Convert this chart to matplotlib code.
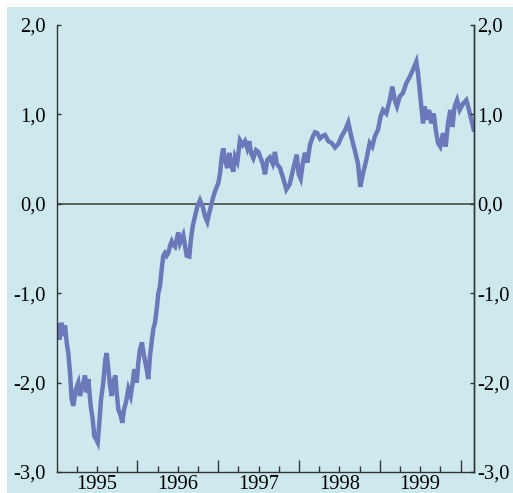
import matplotlib
matplotlib.use("Agg")
import matplotlib.pyplot as plt
from matplotlib.patches import Rectangle
from matplotlib.ticker import FixedLocator, FuncFormatter

dates = [
1995.010,1995.035,1995.064,1995.084,1995.105,1995.126,1995.146,1995.167,1995.188,1995.208,
1995.241,1995.270,1995.291,1995.324,1995.353,1995.374,1995.394,1995.423,1995.448,1995.468,
1995.489,1995.510,1995.530,1995.551,1995.579,1995.604,1995.621,1995.641,1995.662,1995.683,
1995.703,1995.728,1995.745,1995.765,1995.795,1995.814,1995.835,1995.860,1995.889,1995.918,
1995.943,1995.963,1995.993,1996.012,1996.033,1996.058,1996.083,1996.116,1996.136,1996.157,
1996.178,1996.198,1996.219,1996.240,1996.260,1996.281,1996.302,1996.322,1996.343,1996.364,
1996.384,1996.405,1996.426,1996.446,1996.467,1996.507,1996.528,1996.569,1996.611,1996.644,
1996.661,1996.686,1996.714,1996.743,1996.776,1996.809,1996.838,1996.866,1996.891,1996.921,
1996.941,1996.970,1997.002,1997.024,1997.045,1997.064,1997.085,1997.114,1997.139,1997.160,
1997.188,1997.209,1997.238,1997.271,1997.304,1997.333,1997.361,1997.386,1997.407,1997.436,
1997.469,1997.498,1997.519,1997.552,1997.580,1997.609,1997.642,1997.676,1997.704,1997.725,
1997.766,1997.807,1997.844,1997.886,1997.927,1997.973,1997.998,1998.022,1998.047,1998.075,
1998.104,1998.137,1998.171,1998.199,1998.228,1998.261,1998.295,1998.323,1998.364,1998.406,
1998.447,1998.488,1998.530,1998.571,1998.611,1998.649,1998.691,1998.731,1998.760,1998.793,
1998.834,1998.876,1998.908,1998.938,1998.979,1999.012,1999.041,1999.082,1999.124,1999.156,
1999.186,1999.214,1999.248,1999.288,1999.329,1999.371,1999.412,1999.453,1999.474,1999.495,
1999.515,1999.536,1999.557,1999.577,1999.610,1999.639,1999.668,1999.700,1999.722,1999.750,
1999.783,1999.817,1999.845,1999.874,1999.899,1999.928,1999.957,1999.990,2000.031,2000.072,
2000.105,2000.134,2000.163,
]
spread = [
-1.36,-1.52,-1.33,-1.48,-1.36,-1.55,-1.67,-1.89,-2.19,-2.26,
-2.07,-2.00,-2.15,-2.03,-1.92,-2.11,-1.96,-2.26,-2.41,-2.60,
-2.63,-2.67,-2.45,-2.19,-2.00,-1.74,-1.67,-1.85,-2.03,-2.15,
-2.00,-1.92,-2.11,-2.30,-2.37,-2.45,-2.30,-2.22,-2.07,-2.15,
-2.00,-1.85,-2.00,-1.78,-1.63,-1.55,-1.70,-1.85,-1.96,-1.70,
-1.55,-1.40,-1.33,-1.18,-1.00,-0.92,-0.73,-0.58,-0.55,-0.58,
-0.55,-0.47,-0.42,-0.46,-0.48,-0.32,-0.44,-0.35,-0.58,-0.59,
-0.42,-0.25,-0.14,-0.03,0.04,-0.03,-0.14,-0.20,-0.10,0.01,
0.08,0.16,0.23,0.34,0.53,0.62,0.49,0.40,0.57,0.44,
0.36,0.53,0.47,0.71,0.66,0.70,0.62,0.70,0.57,0.51,
0.60,0.58,0.53,0.45,0.33,0.49,0.52,0.45,0.58,0.45,
0.40,0.28,0.16,0.22,0.38,0.55,0.33,0.28,0.45,0.57,
0.46,0.66,0.75,0.80,0.79,0.73,0.76,0.77,0.70,0.68,
0.63,0.67,0.76,0.82,0.91,0.75,0.60,0.45,0.19,0.34,
0.49,0.68,0.64,0.75,0.83,0.98,1.05,1.01,1.16,1.31,
1.16,1.09,1.20,1.24,1.35,1.42,1.50,1.59,1.46,1.27,
1.09,0.90,1.09,0.94,1.05,0.90,1.01,0.79,0.68,0.64,
0.79,0.64,0.90,1.05,0.86,1.09,1.16,1.05,1.12,1.16,
1.05,0.94,0.83,
]
yticks = [2.0, 1.0, 0.0, -1.0, -2.0, -3.0]
ytick_labels = ["2,0", "1,0", "0,0", "-1,0", "-2,0", "-3,0"]
year_labels = ["1995", "1996", "1997", "1998", "1999"]

BG = "#cde9ee"
LINE = "#6b78ba"
AXC = "#333333"
FS = 14.8

plt.rcParams["font.family"] = ["Liberation Serif", "DejaVu Serif"]
fig = plt.figure(figsize=(5.13, 4.93), dpi=100, facecolor="white")
fig.patches.append(Rectangle((7/513, 0), 506/513, 486/493, transform=fig.transFigure,
                             facecolor=BG, edgecolor="none", zorder=-10))
ax = fig.add_axes([56.5/513, 1-472/493, (474-56.5)/513, (472-25)/493])
ax.set_facecolor("none")

ax.axhline(0, color="#555555", lw=1.3, zorder=1)
ax.plot(dates, spread, color=LINE, lw=3.2, solid_joinstyle="miter", zorder=2)

ax.set_xlim(1995.0, 2000.167)
ax.set_ylim(-3, 2)

for s in ["left", "right", "bottom"]:
    ax.spines[s].set_color(AXC)
    ax.spines[s].set_linewidth(1.0)
ax.spines["top"].set_visible(False)

# left y axis
ax.set_yticks(yticks)
ax.set_yticklabels(ytick_labels)
ax.tick_params(axis="y", which="major", direction="in", length=3, width=1, color=AXC,
               left=True, right=False, labelleft=True, labelright=False, labelsize=FS, pad=7.5)

# right y axis
ax2 = ax.twinx()
ax2.set_ylim(-3, 2)
ax2.set_yticks(yticks)
ax2.set_yticklabels(ytick_labels)
ax2.tick_params(axis="y", which="major", direction="in", length=3, width=1, color=AXC,
                labelsize=FS, pad=2.5)
for s in ["left", "top", "bottom"]:
    ax2.spines[s].set_visible(False)
ax2.spines["right"].set_color(AXC)
ax2.spines["right"].set_linewidth(1.0)

# x axis
years = [1996, 1997, 1998, 1999, 2000]
ax.xaxis.set_major_locator(FixedLocator(years))
ax.xaxis.set_major_formatter(FuncFormatter(lambda v, p: ""))
quarters = [1995 + q * 0.25 for q in range(1, 21) if q % 4 != 0]
ax.xaxis.set_minor_locator(FixedLocator(quarters))
mid = {1995.5 + i: lab for i, lab in enumerate(year_labels)}
ax.xaxis.set_minor_formatter(FuncFormatter(lambda v, p: mid.get(round(v * 4) / 4, "")))
ax.tick_params(axis="x", which="major", direction="in", length=8.5, width=1, color=AXC)
ax.tick_params(axis="x", which="minor", direction="in", length=4, width=1, color=AXC,
               labelsize=FS, pad=2)

fig.savefig("out.png", dpi=100, facecolor="white")
